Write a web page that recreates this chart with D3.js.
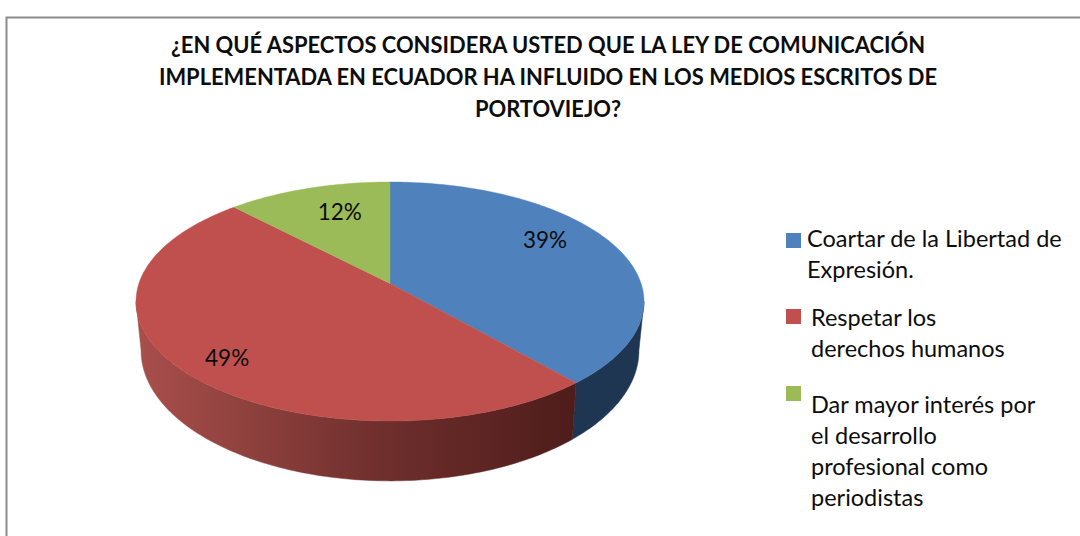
<!DOCTYPE html>
<html><head><meta charset="utf-8">
<script src="https://cdn.jsdelivr.net/npm/d3@7"></script>
<style>html,body{margin:0;padding:0;background:#fff;overflow:hidden}svg{display:block}text{font-family:Lato,Carlito,sans-serif;fill:#0d0d0d}</style>
</head><body><svg id="c" width="1080" height="536"></svg>
<script>
const titleLines=["¿EN QUÉ ASPECTOS CONSIDERA USTED QUE LA LEY DE COMUNICACIÓN","IMPLEMENTADA EN ECUADOR HA INFLUIDO EN LOS MEDIOS ESCRITOS DE","PORTOVIEJO?"];
const categories=["Coartar de la Libertad de Expresión.","Respetar los derechos humanos","Dar mayor interés por el desarrollo profesional como periodistas"];
const values=[38.6,49.3,12.1];
const topColors=["#4f81bd","#c0504d","#9bbb59"];
const legendLines=[["Coartar de la Libertad de","Expresión."],["Respetar los","derechos humanos"],["Dar mayor interés por","el desarrollo","profesional como","periodistas"]];

const svg=d3.select("#c");
svg.append("path").attr("d","M1080,17.5H6.5V536").attr("fill","none").attr("stroke","#8c8c8c").attr("stroke-width",2);

const g=svg.append("g").attr("font-weight",700).attr("font-size",21.9).attr("text-anchor","middle");
titleLines.forEach((t,i)=>g.append("text").attr("x",548).attr("y",53+i*32).text(t));

// perspective pie: circle in a plane seen through a projective map
const cx=390,cy=283.5,A=251.1,B=116.8,k=0.1506;
const project=(a,r=1)=>{const u=r*Math.sin(a),v=-r*Math.cos(a),w=1-k*v;return [cx+A*u/w,cy+B*v/w];};
const sx=0.98,sy=1.09,y0=331;
const lower=p=>[cx+sx*(p[0]-cx),y0+sy*(p[1]-cy)];
const line=d3.line();
const arcs=d3.pie().sort(null)(values);
const step=Math.PI/180;
const samples=(a0,a1)=>{const n=Math.max(2,Math.ceil((a1-a0)/step));return d3.range(n+1).map(i=>a0+(a1-a0)*i/n);};

const defs=svg.append("defs");
const grad=defs.append("linearGradient").attr("id","redSide").attr("gradientUnits","userSpaceOnUse").attr("x1",136).attr("x2",580).attr("y1",0).attr("y2",0);
[[0,"#a94f4c"],[0.25,"#8f413e"],[0.55,"#6f2f2d"],[1,"#4d1c1a"]].forEach(s=>grad.append("stop").attr("offset",s[0]).attr("stop-color",s[1]));
const sideFill=["#1f3653","url(#redSide)","#5f7530"];

const visA=Math.acos(-k), visB=2*Math.PI-visA; // silhouette angles
arcs.forEach((d,i)=>{
  const a0=Math.max(d.startAngle,visA),a1=Math.min(d.endAngle,visB);
  if(a1<=a0)return;
  const rim=samples(a0,a1).map(a=>project(a));
  const pts=rim.concat(rim.map(lower).reverse());
  svg.append("path").attr("d",line(pts)+"Z").attr("fill",sideFill[i]).attr("stroke",sideFill[i]).attr("stroke-width",0.5);
});
arcs.forEach((d,i)=>{
  const pts=[[cx,cy]].concat(samples(d.startAngle,d.endAngle).map(a=>project(a)));
  svg.append("path").attr("d",line(pts)+"Z").attr("fill",topColors[i]).attr("stroke",topColors[i]).attr("stroke-width",0.4);
});

// labels
const labelR=[0.66,0.62,0.62],labelNudge=[[5,-17],[-40,23],[3,-9]];
const pct=d3.format(".0f");
arcs.forEach((d,i)=>{
  const p=project((d.startAngle+d.endAngle)/2,labelR[i]);
  svg.append("text").attr("x",p[0]+labelNudge[i][0]).attr("y",p[1]+labelNudge[i][1]).attr("dy","0.35em")
    .attr("text-anchor","middle").attr("font-size",22.5).text(pct(d.value)+"%");
});

// legend
const swatchY=[233,309,386],textX=[807,811,811],firstBase=[247,326,413],lh=31;
legendLines.forEach((ls,i)=>{
  svg.append("rect").attr("x",786).attr("y",swatchY[i]).attr("width",15).attr("height",15).attr("fill",topColors[i]);
  ls.forEach((t,j)=>svg.append("text").attr("x",textX[i]).attr("y",firstBase[i]+j*lh).attr("font-size",23.5).text(t));
});
</script></body></html>
